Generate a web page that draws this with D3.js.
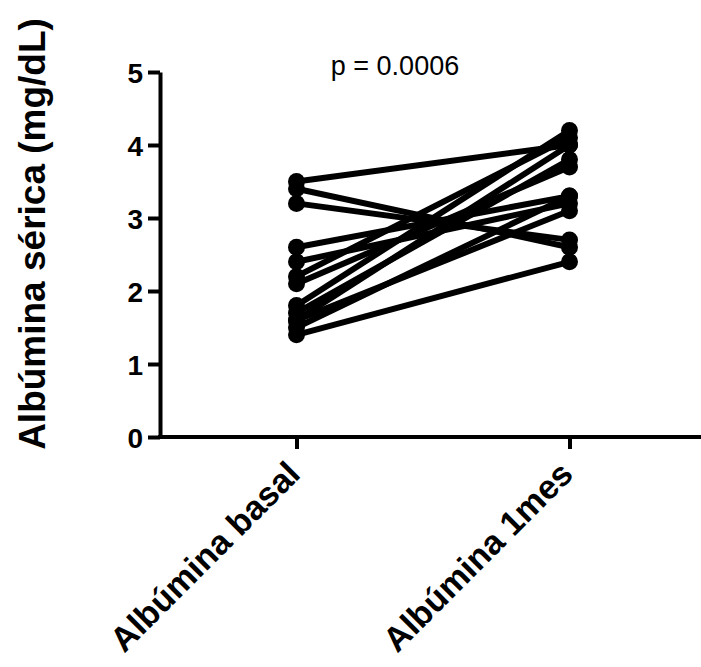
<!DOCTYPE html>
<html>
<head>
<meta charset="utf-8">
<script src="https://cdn.jsdelivr.net/npm/d3@7"></script>
<style>
  html, body { margin: 0; padding: 0; background: #fff; }
  svg { display: block; font-family: Arial, "Liberation Sans", sans-serif; }
</style>
</head>
<body>
<svg id="chart" width="701" height="667"></svg>
<script>
// Paired serum albumin measurements (mg/dL): baseline vs. one month
const categories = ["Albúmina basal", "Albúmina 1mes"];
const basal = [3.5, 3.4, 3.2, 2.6, 2.4, 2.2, 2.1, 1.8, 1.7, 1.6, 1.6, 1.5, 1.4];
const unMes = [4.0, 2.6, 2.7, 3.3, 3.2, 4.1, 3.7, 4.2, 3.8, 4.0, 3.1, 3.3, 2.4];
const yTicks = [0, 1, 2, 3, 4, 5];
const yTitle = "Albúmina sérica (mg/dL)";
const pLabel = "p = 0.0006";

const svg = d3.select("#chart");
const W = 701;

const x = d3.scalePoint().domain(categories).range([160, 706]).padding(0.5);
const y = d3.scaleLinear().domain([0, 5]).range([437, 72]);

const pairs = basal.map((b, i) => [b, unMes[i]]);

// paired lines
const line = d3.line()
  .x((d, i) => x(categories[i]))
  .y(d => y(d));

svg.append("g")
  .selectAll("path")
  .data(pairs)
  .join("path")
  .attr("d", line)
  .attr("fill", "none")
  .attr("stroke", "#000")
  .attr("stroke-width", 6);

// points
const pts = [];
pairs.forEach(p => p.forEach((v, i) => pts.push({ c: categories[i], v })));
svg.append("g")
  .selectAll("circle")
  .data(pts)
  .join("circle")
  .attr("cx", d => x(d.c))
  .attr("cy", d => y(d.v))
  .attr("r", 8.5)
  .attr("fill", "#000");

// y axis
const yAxis = svg.append("g")
  .attr("transform", "translate(160,0)")
  .call(d3.axisLeft(y).tickValues(yTicks).tickFormat(d3.format("d")).tickSize(12).tickSizeOuter(0).tickPadding(5));
yAxis.select(".domain").attr("stroke-width", 4);
yAxis.selectAll(".tick line").attr("stroke-width", 4);
yAxis.selectAll(".tick text")
  .attr("font-size", 28)
  .attr("font-weight", "bold")
  .attr("fill", "#000")
  .attr("dy", "0.36em");

// x axis
const xAxis = svg.append("g")
  .attr("transform", "translate(0,437)")
  .call(d3.axisBottom(x).tickSize(12).tickSizeOuter(0).tickPadding(0));
xAxis.select(".domain").attr("stroke-width", 4).attr("d", `M158,0H${W}`);
xAxis.selectAll(".tick line").attr("stroke-width", 4);
xAxis.selectAll(".tick text")
  .attr("font-size", 34)
  .attr("font-weight", "bold")
  .attr("fill", "#000")
  .attr("text-anchor", "end")
  .attr("y", 0)
  .attr("dy", 0)
  .attr("transform", "translate(5,39) rotate(-45)");

// y axis title
svg.append("text")
  .attr("transform", "translate(45,234) rotate(-90)")
  .attr("text-anchor", "middle")
  .attr("font-size", 37)
  .attr("font-weight", "bold")
  .text(yTitle);

// significance label
svg.append("text")
  .attr("x", 395)
  .attr("y", 75)
  .attr("text-anchor", "middle")
  .attr("font-size", 27)
  .text(pLabel);
</script>
</body>
</html>
